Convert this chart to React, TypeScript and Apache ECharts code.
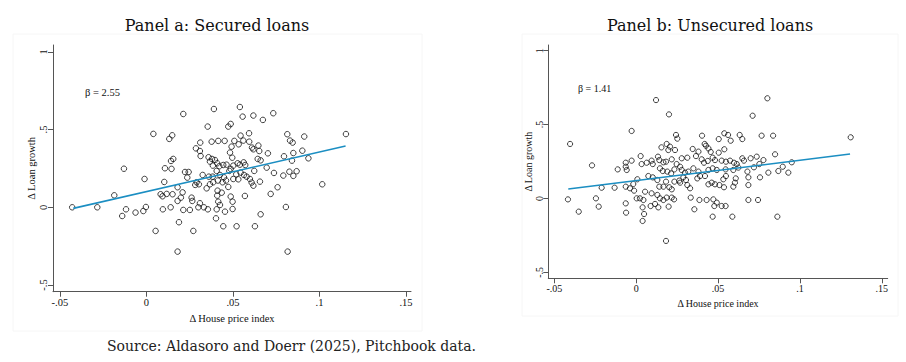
import React, { useEffect, useRef } from "react";
import * as echarts from "echarts";

const xTicks = [-0.05, 0, 0.05, 0.1, 0.15];
const yTicks = [-0.5, 0, 0.5, 1];

const titleA = "Panel a: Secured loans";
const titleB = "Panel b: Unsecured loans";
const betaA = "β = 2.55";
const betaB = "β = 1.41";
const xName = "Δ House price index";
const yName = "Δ Loan growth";
const sourceText = "Source: Aldasoro and Doerr (2025), Pitchbook data.";

const securedFit = [[-0.0423, -0.007], [0.1151, 0.394]];
const unsecuredFit = [[-0.0415, 0.064], [0.1306, 0.301]];

const securedPoints = [
  [-0.0429, 0.0], [-0.0284, 0.0], [-0.0186, 0.077], [-0.014, -0.056], [-0.0118, -0.013], [-0.013, 0.248], [0.1153, 0.471],
  [0.0213, 0.6], [0.039, 0.632], [0.054, 0.645], [0.0556, 0.583], [0.0618, 0.59], [0.0673, 0.562], [0.0733, 0.605],
  [0.0354, 0.519], [0.0473, 0.519], [0.0487, 0.536], [0.0593, 0.476], [0.004, 0.472], [0.0132, 0.44], [0.0149, 0.463],
  [0.0814, 0.47], [0.0912, 0.455], [0.083, 0.429], [0.0845, 0.416], [0.0311, 0.416], [0.0377, 0.422], [0.0415, 0.427],
  [0.0452, 0.427], [0.0508, 0.427], [0.0544, 0.461], [0.056, 0.429], [0.0594, 0.422], [0.0647, 0.397], [0.0286, 0.379],
  [0.0309, 0.362], [0.0313, 0.33], [0.0492, 0.39], [0.0533, 0.405], [0.061, 0.384], [0.0618, 0.373], [0.0652, 0.362],
  [0.0702, 0.347], [0.0901, 0.364], [0.0849, 0.349], [0.0936, 0.315], [0.0795, 0.328], [0.0841, 0.3], [0.0483, 0.352],
  [0.0496, 0.319], [0.0643, 0.311], [0.066, 0.302], [0.0155, 0.311], [0.0142, 0.298], [0.0359, 0.322], [0.0379, 0.311],
  [0.0396, 0.304], [0.0367, 0.294], [0.0409, 0.283], [0.0384, 0.268], [0.0444, 0.272], [0.0463, 0.274], [0.0421, 0.264],
  [0.0502, 0.268], [0.0527, 0.283], [0.054, 0.274], [0.0562, 0.289], [0.0571, 0.272], [0.0107, 0.251], [0.0145, 0.247],
  [0.0695, 0.255], [0.0737, 0.221], [0.0791, 0.204], [0.0826, 0.229], [0.0849, 0.202], [0.0868, 0.232], [0.0223, 0.227],
  [0.0244, 0.227], [0.0236, 0.191], [0.0325, 0.208], [0.0361, 0.197], [0.0383, 0.197], [0.0406, 0.234], [0.0425, 0.208],
  [0.0448, 0.193], [0.0479, 0.234], [0.0487, 0.247], [0.0519, 0.212], [0.0544, 0.223], [0.0564, 0.208], [0.0579, 0.197],
  [0.0598, 0.182], [0.0623, 0.234], [-0.0011, 0.182], [0.0103, 0.163], [0.018, 0.129], [0.0282, 0.144], [0.0303, 0.148],
  [0.029, 0.161], [0.0348, 0.122], [0.0367, 0.148], [0.0386, 0.161], [0.0413, 0.172], [0.044, 0.161], [0.046, 0.172],
  [0.0502, 0.182], [0.0531, 0.18], [0.0608, 0.159], [0.0656, 0.165], [0.0618, 0.139], [0.0758, 0.129], [0.1016, 0.148],
  [0.0082, 0.084], [0.0093, 0.071], [0.0117, 0.086], [0.0151, 0.084], [0.0209, 0.096], [0.0199, 0.062], [0.018, 0.041],
  [0.0261, 0.062], [0.0265, 0.041], [0.0309, 0.026], [0.03, 0.0], [0.0332, 0.0], [0.0411, 0.107], [0.0409, 0.075],
  [0.0435, 0.094], [0.0473, 0.131], [0.0487, 0.069], [0.0498, 0.036], [0.0415, 0.036], [0.0425, 0.015], [0.0498, -0.011],
  [0.0355, -0.013], [0.0569, 0.073], [0.0718, 0.086], [0.0806, 0.002], [-0.0003, 0.002], [-0.0018, -0.024], [-0.0063, -0.034],
  [0.0095, -0.013], [0.014, 0.0], [0.0213, -0.017], [0.0251, -0.017], [0.0406, -0.013], [0.0454, -0.028], [0.066, -0.045],
  [0.0402, -0.071], [0.0188, -0.096], [0.0444, -0.122], [0.0521, -0.122], [0.0627, -0.122], [0.0053, -0.152], [0.0271, -0.152],
  [0.018, -0.285], [0.0816, -0.285],
];

const unsecuredPoints = [
  [-0.0404, 0.369], [-0.0417, -0.006], [-0.0351, -0.089], [0.131, 0.414],
  [0.0121, 0.666], [0.0801, 0.678], [0.02, 0.569], [0.0711, 0.56], [-0.0028, 0.457], [0.0243, 0.43], [0.0251, 0.405],
  [0.0402, 0.425], [0.0538, 0.441], [0.0561, 0.43], [0.0577, 0.391], [0.0504, 0.402], [0.0632, 0.43], [0.0648, 0.402],
  [0.0766, 0.425], [0.0836, 0.425], [0.0186, 0.369], [0.0206, 0.351], [0.0196, 0.328], [0.0237, 0.328], [0.0154, 0.346],
  [0.0418, 0.369], [0.0426, 0.357], [0.0345, 0.335], [0.038, 0.317], [0.0441, 0.339], [0.0455, 0.315], [0.0538, 0.333],
  [0.0504, 0.31], [0.0848, 0.299], [0.0027, 0.287], [-0.0028, 0.256], [-0.0064, 0.242], [-0.0064, 0.215], [-0.0058, 0.193],
  [-0.0113, 0.197], [-0.027, 0.224], [0.0033, 0.233], [0.0064, 0.242], [0.0094, 0.256], [0.0101, 0.233], [0.0133, 0.283],
  [0.0141, 0.26], [0.0166, 0.245], [0.0182, 0.249], [0.0217, 0.265], [0.0247, 0.233], [0.0278, 0.272], [0.0312, 0.276],
  [0.0268, 0.215], [0.0233, 0.197], [0.0145, 0.204], [0.0162, 0.186], [0.019, 0.182], [0.0213, 0.17], [0.0365, 0.287],
  [0.04, 0.265], [0.0414, 0.242], [0.0437, 0.254], [0.0467, 0.276], [0.0481, 0.26], [0.0522, 0.256], [0.0548, 0.249],
  [0.0573, 0.256], [0.0597, 0.242], [0.0614, 0.233], [0.0648, 0.272], [0.0658, 0.256], [0.0699, 0.272], [0.0736, 0.283],
  [0.0777, 0.26], [0.0546, 0.197], [0.0593, 0.193], [0.0624, 0.209], [0.0679, 0.182], [0.0719, 0.211], [0.0752, 0.233],
  [0.0807, 0.175], [0.0868, 0.186], [0.0895, 0.215], [0.0929, 0.175], [0.095, 0.245], [0.0278, 0.193], [0.0298, 0.175],
  [0.0318, 0.182], [0.0288, 0.143], [0.0304, 0.125], [0.0268, 0.107], [0.0349, 0.204], [0.038, 0.182], [0.0373, 0.136],
  [0.039, 0.152], [0.042, 0.152], [0.0441, 0.193], [0.0467, 0.204], [0.0492, 0.193], [0.0532, 0.13], [0.0548, 0.152],
  [0.0608, 0.136], [0.0593, 0.08], [0.0603, 0.107], [0.0685, 0.143], [0.0685, 0.091], [0.0756, 0.143], [0.0461, 0.107],
  [0.0481, 0.096], [0.0508, 0.091], [0.0536, 0.076], [0.0441, 0.096], [0.0007, 0.13], [-0.0018, 0.098], [-0.0038, 0.069],
  [-0.0013, 0.053], [-0.0064, 0.08], [-0.0132, 0.073], [-0.0211, 0.073], [0.0054, 0.046], [0.0074, 0.152], [0.0101, 0.143],
  [0.0129, 0.125], [0.0141, 0.08], [0.0166, 0.08], [0.0182, 0.114], [0.0202, 0.076], [0.0217, 0.062], [0.0233, 0.114],
  [0.0263, 0.121], [0.0312, 0.091], [0.0329, 0.069], [0.0094, 0.035], [0.0129, 0.024], [0.0145, 0.001], [0.0186, 0.006],
  [0.0217, 0.006], [0.0231, -0.006], [0.0003, 0.001], [0.0023, 0.001], [0.0044, -0.01], [0.0039, -0.06], [0.0088, -0.051],
  [0.0115, -0.037], [0.0135, -0.06], [0.0166, -0.01], [-0.0064, -0.033], [-0.0246, 0.001], [-0.0229, -0.055], [-0.0062, -0.096],
  [0.0048, -0.105], [0.0039, -0.152], [0.0198, -0.055], [0.0333, 0.006], [0.0355, -0.073], [0.0386, -0.01], [0.043, -0.01],
  [0.0471, -0.006], [0.0492, -0.028], [0.0477, -0.051], [0.0522, -0.051], [0.0546, -0.051], [0.0467, -0.123], [0.0587, -0.123],
  [0.0685, -0.01], [0.0744, -0.01], [0.0862, -0.123], [0.0182, -0.287],
];

const SERIF = "Liberation Serif";
const TITLE_FONT = "DejaVu Serif";

function fmt(v: number): string {
  const r = Math.round(v * 100) / 100;
  if (r === 0) return "0";
  return String(r).replace(/^(-?)0\./, "$1.");
}

function makeX(gridIndex: number, min: number, max: number, fs: number, gap: number) {
  return {
    type: "value",
    gridIndex,
    min,
    max,
    name: xName,
    nameLocation: "middle",
    nameGap: gap,
    nameTextStyle: { fontFamily: SERIF, fontSize: fs, color: "#111" },
    axisLine: { onZero: false, lineStyle: { color: "#555", width: 1 } },
    axisTick: { show: true, customValues: xTicks, length: 5, lineStyle: { color: "#555" } },
    axisLabel: { customValues: xTicks, formatter: fmt, fontFamily: SERIF, fontSize: fs, color: "#111", margin: 5 },
    splitLine: { show: false },
  };
}

function makeY(gridIndex: number, min: number, max: number, fs: number, gap: number) {
  return {
    type: "value",
    gridIndex,
    min,
    max,
    name: yName,
    nameLocation: "middle",
    nameGap: gap,
    nameTextStyle: { fontFamily: SERIF, fontSize: fs, color: "#111" },
    axisLine: { onZero: false, lineStyle: { color: "#555", width: 1 } },
    axisTick: { show: true, customValues: yTicks, length: 5, lineStyle: { color: "#555" } },
    axisLabel: { customValues: yTicks, formatter: fmt, rotate: 90, fontFamily: SERIF, fontSize: fs, color: "#111", margin: 4 },
    splitLine: { show: false },
  };
}

function scatter(idx: number, data: number[][], size: number) {
  return {
    type: "scatter",
    xAxisIndex: idx,
    yAxisIndex: idx,
    data,
    symbol: "circle",
    symbolSize: size,
    itemStyle: { color: "rgba(255,255,255,0)", borderColor: "#111", borderWidth: 1 },
    z: 2,
  };
}

function fit(idx: number, data: number[][]) {
  return {
    type: "line",
    xAxisIndex: idx,
    yAxisIndex: idx,
    data,
    symbol: "none",
    lineStyle: { color: "#1b8ec2", width: 1.6 },
    z: 3,
  };
}

export default function App() {
  const ref = useRef<HTMLDivElement>(null);
  useEffect(() => {
    if (!ref.current) return;
    const chart = echarts.init(ref.current, undefined, { renderer: "svg" });
    chart.setOption({
      animation: false,
      backgroundColor: "#ffffff",
      grid: [
        { left: 53, top: 45, width: 358, height: 246.7 },
        { left: 548.3, top: 45, width: 339.4, height: 233.3 },
      ],
      xAxis: [makeX(0, -0.054, 0.1529, 10.5, 17), makeX(1, -0.0537, 0.1536, 10, 16)],
      yAxis: [makeY(0, -0.5428, 1.0437, 10.5, 14), makeY(1, -0.54, 1.0386, 10, 13)],
      series: [
        scatter(0, securedPoints, 5.5),
        fit(0, securedFit),
        scatter(1, unsecuredPoints, 5.2),
        fit(1, unsecuredFit),
      ],
      graphic: [
        { type: "rect", shape: { x: 13, y: 34, width: 409, height: 297 }, style: { fill: "none", stroke: "#f6f6f6", lineWidth: 1 }, silent: true },
        { type: "rect", shape: { x: 522, y: 34, width: 376, height: 282 }, style: { fill: "none", stroke: "#f6f6f6", lineWidth: 1 }, silent: true },
        { type: "text", x: 217, y: 25, style: { text: titleA, font: `16px "${TITLE_FONT}"`, fill: "#111", textAlign: "center", textVerticalAlign: "middle" } },
        { type: "text", x: 710, y: 25, style: { text: titleB, font: `16px "${TITLE_FONT}"`, fill: "#111", textAlign: "center", textVerticalAlign: "middle" } },
        { type: "text", x: 85, y: 92, style: { text: betaA, font: `10.5px "${SERIF}"`, fill: "#111", textAlign: "left", textVerticalAlign: "middle" } },
        { type: "text", x: 578, y: 88, style: { text: betaB, font: `10px "${SERIF}"`, fill: "#111", textAlign: "left", textVerticalAlign: "middle" } },
        { type: "text", x: 107, y: 346, style: { text: sourceText, font: `14px "${TITLE_FONT}"`, fill: "#222", textAlign: "left", textVerticalAlign: "middle" } },
      ],
    });
    return () => chart.dispose();
  }, []);
  return <div ref={ref} style={{ position: "fixed", left: 0, top: 0, width: 906, height: 362 }} />;
}
